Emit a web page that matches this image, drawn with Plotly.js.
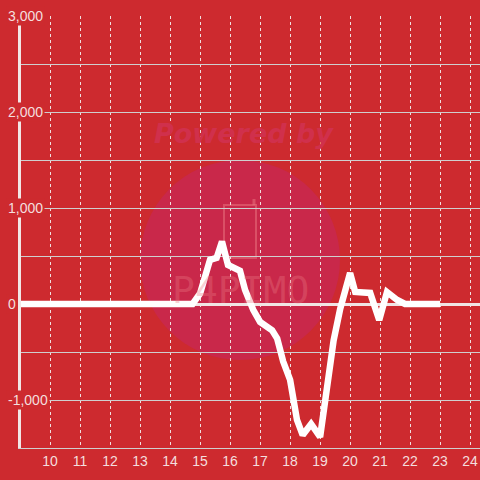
<!DOCTYPE html>
<html>
<head>
<meta charset="utf-8">
<script src="https://cdn.plot.ly/plotly-3.0.1.min.js"></script>
<style>html,body{margin:0;padding:0;background:#cd2a2f;}#chart{width:480px;height:480px;}</style>
</head>
<body>
<div id="chart"></div>
<script>
// Time of day (hours) and value
const hours = [9, 14.75, 15.0, 15.33, 15.55, 15.73, 15.93, 16.2, 16.33, 16.5, 16.77, 17.0, 17.4, 17.57, 17.77, 18.0, 18.23, 18.42, 18.7, 19.0, 19.23, 19.45, 19.67, 19.83, 20.0, 20.17, 20.67, 20.97, 21.23, 21.57, 21.83, 23.0];
const values = [0, 0, 110, 460, 480, 650, 406, 375, 345, 146, -60, -187, -275, -360, -600, -790, -1208, -1365, -1250, -1385, -900, -380, -50, 150, 323, 125, 115, -167, 125, 42, 0, 0];

const xTicks = [10, 11, 12, 13, 14, 15, 16, 17, 18, 19, 20, 21, 22, 23, 24];
const yTickVals = [3000, 2000, 1000, 0, -1000];
const yTickText = ['3,000', '2,000', '1,000', '0', '-1,000'];

const red = '#cd2a2f';
const labelColor = '#f4dede';

const annotations = yTickVals.map((v, i) => ({
  xref: 'paper', yref: 'y', x: -0.033, y: v,
  xanchor: 'left', yanchor: 'middle',
  text: yTickText[i], showarrow: false,
  bgcolor: red, borderpad: 1,
  font: {family: 'Liberation Sans, Arial, sans-serif', size: 14, color: labelColor}
}));

annotations.push({
  xref: 'paper', yref: 'paper', x: (244 - 21) / 459, y: (448 - 133) / 432,
  xanchor: 'center', yanchor: 'middle', showarrow: false,
  text: '<b><i>Powered by</i></b>',
  font: {family: 'DejaVu Sans, sans-serif', size: 27, color: '#d0304c'}
});
annotations.push({
  xref: 'paper', yref: 'paper', x: (240 - 21) / 459, y: (448 - 290) / 432,
  xanchor: 'center', yanchor: 'middle', showarrow: false,
  text: 'P4PIMO',
  font: {family: 'DejaVu Sans Mono, monospace', size: 38, color: 'rgba(235,120,130,0.35)'}
});

const shapes = [
  {type: 'circle', xref: 'paper', yref: 'paper', layer: 'below',
   x0: (140 - 21) / 459, x1: (340 - 21) / 459,
   y0: (448 - 160) / 432, y1: (448 - 360) / 432,
   fillcolor: '#c9284a', line: {width: 0}},
  {type: 'rect', xref: 'paper', yref: 'paper', layer: 'below',
   x0: (224 - 21) / 459, x1: (256 - 21) / 459,
   y0: (448 - 258) / 432, y1: (448 - 205) / 432,
   line: {color: 'rgba(235,120,130,0.5)', width: 2}},
  {type: 'line', xref: 'paper', yref: 'paper', layer: 'below',
   x0: (254 - 21) / 459, x1: (254 - 21) / 459,
   y0: (448 - 205) / 432, y1: (448 - 199) / 432,
   line: {color: 'rgba(235,120,130,0.5)', width: 3}}
];

Plotly.newPlot('chart', [{
  x: hours, y: values, type: 'scatter', mode: 'lines',
  line: {color: '#ffffff', width: 6.5},
  hoverinfo: 'skip'
}], {
  width: 480, height: 480,
  paper_bgcolor: red, plot_bgcolor: 'rgba(0,0,0,0)',
  margin: {l: 21, r: 0, t: 16, b: 32},
  showlegend: false,
  xaxis: {
    range: [9.03, 24.33], tickvals: xTicks, ticktext: xTicks.map(String),
    showgrid: true, gridcolor: '#f0e0e0', griddash: 'dot', gridwidth: 1,
    showline: true, linecolor: '#cfcfcf', linewidth: 1,
    zeroline: false, ticks: '', ticklen: 0,
    tickfont: {family: 'Liberation Sans, Arial, sans-serif', size: 14, color: labelColor}
  },
  yaxis: {
    range: [-1500, 3000], dtick: 500, tick0: 0,
    showticklabels: false,
    showgrid: true, gridcolor: '#cfcfcf', gridwidth: 1,
    showline: true, linecolor: '#f2e6e6', linewidth: 3,
    zeroline: true, zerolinecolor: '#f0e4e4', zerolinewidth: 3,
    ticks: ''
  },
  shapes: shapes,
  annotations: annotations
}, {staticPlot: true});
</script>
</body>
</html>
